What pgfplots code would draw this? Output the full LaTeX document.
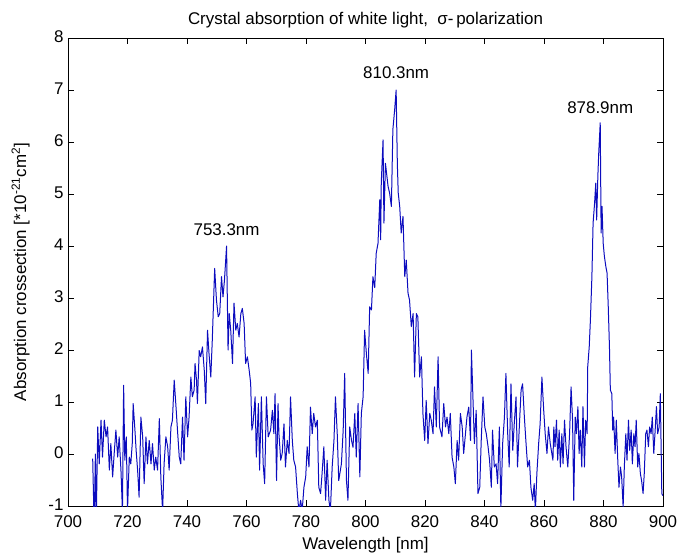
\documentclass[border=0pt]{standalone}
\usepackage{fontspec}
\setmainfont{Liberation Sans}
\usepackage{pgfplots}
\pgfplotsset{compat=1.18}
\definecolor{specblue}{RGB}{12,12,190}
\begin{document}
\begin{tikzpicture}[font=\fontsize{17}{20}\selectfont]
\path[use as bounding box] (-68bp,-52bp) rectangle (610bp,506bp);
\begin{axis}[
  at={(0,0)}, anchor=south west, scale only axis,
  width=595bp, height=468bp,
  xmin=700, xmax=900, ymin=-1, ymax=8,
  xtick={700,720,...,900}, ytick={-1,0,...,8},
  major tick length=6bp,
  tick style={black, line width=0.6bp},
  axis line style={black, line width=0.8bp},
  /pgf/number format/assume math mode=true,
  /pgf/number format/set thousands separator={},
  ticklabel style={font=\fontsize{17}{20}\selectfont},
  xticklabel style={yshift=-6bp},
  yticklabel style={xshift=-1bp, yshift=1bp},
  label style={font=\fontsize{17}{20}\selectfont},
  xlabel style={yshift=-3bp},
  ylabel style={yshift=12bp},
  title style={font=\fontsize{17}{20}\selectfont},
  xlabel={Wavelength [nm]},
  ylabel={Absorption crossection [*10\textsuperscript{-21}cm\textsuperscript{2}]},
  title={Crystal absorption of white light,\ \ σ-\,polarization},
]
\addplot[specblue, line width=1.0bp, line join=round] coordinates {
(708.3,-0.09) (708.8,-1.4) (709.2,0.0) (709.5,-1.3) (710.0,0.52) (710.5,-0.19) (711.1,0.65) (711.6,-0.06)
(712.2,0.65) (712.8,0.33) (713.3,0.52) (713.9,-0.31) (714.4,0.20) (715.0,-0.44) (715.6,0.07) (716.1,0.46)
(716.7,-0.06) (717.2,0.33) (717.8,-0.31) (718.3,-1.1) (718.7,1.32) (719.1,-0.12) (719.6,0.33) (720.0,-1.1)
(720.6,-0.06) (721.1,-0.19) (721.6,0.20) (721.9,0.97) (722.5,0.46) (722.9,0.07) (723.4,-0.31) (723.9,-0.83)
(724.5,0.71) (725.1,0.33) (725.6,-0.57) (726.2,0.33) (726.7,-0.19) (727.3,0.26) (727.9,-0.19) (728.4,0.20)
(729.0,-0.31) (729.5,-0.06) (730.1,-0.31) (730.7,0.68) (731.2,-0.44) (731.8,-1.1) (732.3,-0.19) (732.9,0.33)
(733.5,0.14) (734.0,-0.31) (734.6,0.52) (735.1,0.65) (735.7,1.42) (736.3,0.91) (736.8,0.46) (737.4,-0.06)
(737.9,-0.19) (738.5,0.71) (739.0,-0.12) (739.6,1.10) (740.2,0.33) (740.7,0.71) (741.3,1.48) (741.8,1.10)
(742.4,1.23) (742.7,1.74) (743.2,1.42) (743.5,0.97) (744.1,1.99) (744.6,1.87) (745.2,2.06) (745.8,1.61)
(746.3,0.97) (746.9,2.38) (747.4,1.93) (748.0,1.48) (748.5,2.19) (749.3,3.57) (749.9,2.96) (750.5,2.64)
(751.0,2.70) (751.6,3.41) (752.1,3.02) (752.6,3.35) (753.3,4.00) (753.8,2.00) (754.2,2.70) (754.7,2.38)
(755.3,1.74) (755.8,2.90) (756.4,2.38) (756.9,2.51) (757.5,2.25) (758.1,2.70) (758.6,2.80) (759.2,2.51)
(759.7,1.74) (760.3,1.87) (760.9,1.61) (761.4,1.36) (761.8,0.46) (762.2,0.58) (762.9,1.10) (763.3,-0.06)
(764.0,0.97) (764.4,-0.31) (765.0,1.10) (765.6,-0.19) (766.1,-0.57) (766.7,1.10) (767.3,0.33) (768.1,0.46)
(768.7,0.84) (769.2,0.39) (769.6,1.16) (770.1,-0.51) (770.6,0.97) (770.9,0.39) (771.5,-0.12) (772.0,0.01)
(772.6,0.58) (773.1,-0.25) (773.7,0.26) (774.3,0.01) (774.8,1.10) (775.4,0.26) (775.9,-0.12) (776.5,-0.25)
(777.1,-0.76) (777.6,-1.1) (778.2,-0.89) (778.7,-1.1) (779.3,-0.64) (779.9,-0.44) (780.4,0.14) (781.0,-0.25)
(781.5,0.90) (782.1,0.39) (782.6,0.78) (783.2,0.52) (783.8,0.65) (784.3,-0.64) (784.9,-0.76) (785.4,-0.38)
(786.0,0.14) (786.6,-0.89) (787.1,-0.12) (787.7,-0.89) (788.2,-1.1) (788.8,-0.25) (789.4,0.26) (789.9,1.10)
(790.5,0.39) (791.0,-0.51) (791.9,-0.19) (792.5,0.46) (793.0,1.55) (793.6,-0.51) (794.1,-0.89) (794.7,0.52)
(795.3,0.26) (795.8,0.13) (796.4,0.78) (796.9,-0.06) (797.5,0.97) (798.1,-0.44) (798.6,0.78) (799.2,1.10)
(799.7,2.38) (800.3,1.93) (800.9,1.55) (801.4,2.83) (802.0,2.77) (802.5,3.41) (803.1,3.20) (803.6,3.86)
(804.2,4.05) (804.8,4.89) (805.1,4.12) (805.3,5.21) (805.9,6.04) (806.2,4.44) (806.7,5.59) (807.2,5.34)
(807.6,5.14) (808.1,5.02) (808.7,4.76) (809.2,6.24) (809.8,6.62) (810.3,7.00) (810.7,5.59) (811.0,5.02)
(811.5,4.76) (812.0,4.25) (812.6,4.57) (813.2,3.41) (813.7,3.73) (814.3,3.09) (814.8,2.96) (815.4,2.45)
(816.0,2.70) (816.5,1.48) (817.1,2.70) (817.6,2.64) (818.2,1.48) (818.8,1.87) (819.3,0.78) (819.9,0.26)
(820.4,1.03) (821.0,0.20) (821.6,0.78) (822.1,0.65) (822.7,0.39) (823.2,1.29) (823.8,0.52) (824.4,1.87)
(824.9,0.52) (825.7,0.33) (826.3,0.97) (826.9,0.52) (827.4,0.71) (828.0,0.39) (828.5,0.78) (829.1,-0.06)
(829.7,-0.25) (830.2,-0.57) (830.8,0.26) (831.3,-0.12) (831.9,0.78) (832.5,0.52) (833.0,0.01) (833.6,0.39)
(834.1,0.71) (834.7,0.90) (835.3,0.26) (835.6,2.00) (836.0,1.29) (836.6,0.20) (837.2,0.84) (837.8,-0.76)
(838.4,-0.64) (838.9,0.26) (839.5,1.10) (840.1,0.52) (840.6,0.39) (841.2,0.14) (841.7,-0.12) (842.3,-0.64)
(842.7,0.46) (843.3,-0.25) (843.9,-0.19) (844.4,-0.57) (845.0,0.52) (845.5,-1.05) (846.1,0.20) (846.7,0.71)
(847.2,1.55) (847.8,0.39) (848.3,-0.25) (848.9,1.35) (849.5,0.07) (850.0,0.58) (850.6,1.10) (851.1,-0.25)
(851.7,0.52) (852.3,1.23) (852.8,1.35) (853.4,0.71) (853.9,0.26) (854.5,-0.25) (855.1,-0.12) (855.6,-0.64)
(856.2,-0.89) (856.7,-0.57) (857.1,-1.1) (857.6,-0.38) (858.2,0.20) (858.7,0.58) (859.3,1.48) (859.9,0.84)
(860.4,0.39) (861.0,0.01) (861.5,0.52) (862.1,0.20) (863.0,-0.12) (863.3,0.52) (863.7,0.14) (864.2,0.65)
(864.6,-0.12) (865.1,0.46) (865.5,-0.25) (866.0,0.39) (866.4,-0.19) (866.9,0.65) (867.4,0.14) (868.0,-0.25)
(868.6,0.39) (869.1,1.29) (869.6,0.65) (870.0,-0.89) (870.5,0.71) (870.9,0.39) (871.4,0.91) (871.8,0.01)
(872.2,0.46) (872.7,-0.25) (873.1,0.91) (873.6,-0.25) (874.0,0.65) (874.5,0.39) (874.7,1.68) (875.2,2.06)
(875.6,2.58) (876.1,3.41) (876.5,4.44) (877.0,4.82) (877.4,5.21) (877.7,4.50) (878.1,5.34) (878.4,5.79)
(878.9,6.37) (879.2,4.25) (879.5,4.76) (879.9,4.05) (880.3,3.80) (880.8,3.60) (881.2,3.48) (881.6,2.83)
(882.0,2.06) (882.3,1.23) (882.8,1.16) (883.1,0.46) (883.4,0.71) (883.9,0.01) (884.3,0.65) (884.8,-0.12)
(885.2,-0.64) (885.7,-0.25) (886.1,-0.44) (886.6,-1.02) (887.0,-0.25) (887.5,0.39) (887.9,-0.12) (888.4,0.65)
(888.8,0.07) (889.3,0.46) (889.7,-0.19) (890.2,0.39) (890.6,0.14) (891.0,0.65) (891.5,-0.25) (891.9,0.01)
(892.4,-0.38) (892.8,-0.51) (893.3,-0.76) (893.7,-0.38) (894.2,0.39) (894.6,0.46) (895.1,0.14) (895.5,0.52)
(896.0,0.39) (896.4,0.71) (896.9,0.01) (897.3,0.39) (897.8,0.91) (898.2,0.39) (898.7,0.52) (899.1,1.16)
(899.6,-0.76) (899.9,-0.80)
};
\node[font=\fontsize{17}{20}\selectfont] at (axis cs:753.3,4.31) {753.3nm};
\node[font=\fontsize{17}{20}\selectfont] at (axis cs:810.3,7.34) {810.3nm};
\node[font=\fontsize{17}{20}\selectfont] at (axis cs:878.9,6.66) {878.9nm};
\end{axis}
\end{tikzpicture}
\end{document}
